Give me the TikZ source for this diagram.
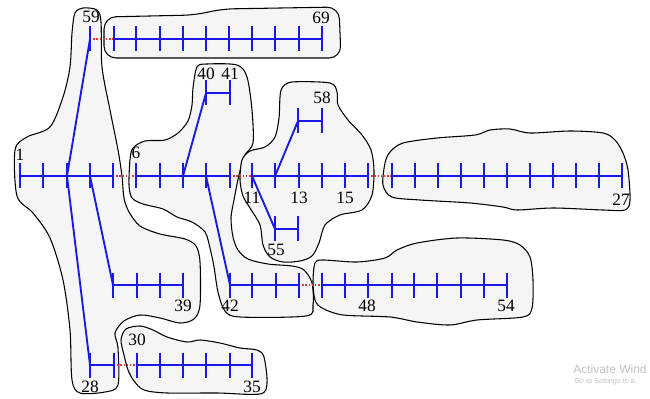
\documentclass[tikz,border=0pt]{standalone}
\usepackage{fontspec}
\setmainfont{Liberation Serif}
\newfontfamily\wmfont{Liberation Sans}
\usetikzlibrary{calc}
\definecolor{zonefill}{RGB}{245,245,245}
\definecolor{busblue}{RGB}{25,25,235}
\definecolor{tiered}{RGB}{235,50,50}
\definecolor{wmgray}{RGB}{195,195,195}
\begin{document}
\begin{tikzpicture}[x=0.75pt,y=-0.75pt,
  zone/.style={draw=black,line width=0.8pt,fill=zonefill},
  busline/.style={busblue,line width=1.2pt},
  busmark/.style={busblue,line width=1.5pt},
  branch/.style={busblue,line width=1.4pt},
  tieline/.style={tiered,line width=1.5pt,dash pattern=on 1.1pt off 1.3pt},
  lbl/.style={inner sep=0pt,font=\fontsize{13}{15}\selectfont},
  wm/.style={inner sep=0pt,anchor=west,text=wmgray}]
\useasboundingbox (0,0) rectangle (650,399);
\fill[white] (0,0) rectangle (650,399);

% ---------- zones ----------
\draw[zone] plot[smooth cycle] coordinates {(83,8) (97,10) (101,22) (102,67) (110,110) (118,150) (122,176) (124,198) (129,212) (140,226) (160,234) (185,239) (196,246) (200,262) (200,305) (194,319) (180,323) (160,318) (140,315) (124,321) (115,333) (118,348) (118,385) (105,392) (80,393) (72,380) (70,330) (63,280) (50,238) (33,213) (17,196) (15,150) (27,137) (50,127) (63,97) (70,67) (72,33) (75,13)};
\draw[zone,rounded corners=9pt] (104,17) -- (195,15) -- (222,9) -- (339,7) -- (341,58) -- (104,58) -- cycle;
\draw[zone] plot[smooth cycle] coordinates {(197,67) (207,64) (237,65) (247,77) (252,110) (253,143) (245,155) (239,175) (234,200) (231,218) (233,237) (238,250) (248,259) (268,264) (292,266) (304,270) (312,283) (313,305) (306,316) (240,317) (225,311) (218,292) (214,267) (210,248) (205,232) (192,222) (177,217) (163,209) (143,204) (132,198) (129,185) (130,160) (133,148) (145,141) (165,140) (178,133) (188,121) (192,105) (193,88)};
\draw[zone] plot[smooth cycle] coordinates {(282,88) (292,82) (330,83) (337,92) (338,105) (348,120) (362,135) (371,150) (374,170) (372,195) (362,210) (340,215) (325,225) (319,243) (312,256) (300,261) (283,262) (270,257) (263,245) (260,225) (250,208) (243,196) (240,180) (242,160) (250,151) (265,147) (275,137) (279,118) (280,97)};
\draw[zone] plot[smooth cycle] coordinates {(385,163) (383,185) (392,197) (420,200) (470,203) (503,207) (517,210) (553,208) (603,210) (625,210) (630,200) (628,170) (623,153) (615,140) (603,133) (570,131) (530,133) (510,129) (490,130) (475,135) (437,138) (403,143) (390,152)};
\draw[zone] plot[smooth cycle] coordinates {(315,263) (313,282) (315,300) (322,308) (343,315) (390,317) (417,322) (450,325) (477,320) (523,317) (532,308) (533,280) (530,257) (520,245) (503,240) (457,238) (417,243) (397,250) (385,258) (357,262) (323,260)};
\draw[zone] plot[smooth cycle] coordinates {(126,329) (121,340) (124,355) (128,370) (134,381) (144,390) (167,393) (217,393) (260,394) (267,383) (264,357) (257,350) (240,348) (220,343) (200,340) (187,342) (167,337) (153,330) (140,326)};

% ---------- bus coordinates ----------
\foreach \n/\x in {a1/20,a2/43,a3/67,a4/90,a5/113,c6/136,c7/160,c8/183,c9/206,c10/230,
  d11/252,d12/275,d13/299,d14/322,d15/345,d16/368,
  e1/392,e2/415,e3/438,e4/461,e5/484,e6/507,e7/530,e8/553,e9/576,e10/599,e11/622}
  \coordinate (\n) at (\x,176);
\coordinate (n59) at (90,39);
\foreach \n/\x in {b1/114,b2/136,b3/160,b4/183,b5/206,b6/229,b7/252,b8/275,b9/299,b10/322}
  \coordinate (\n) at (\x,39);
\coordinate (n40) at (206,93); \coordinate (n41) at (230,93);
\coordinate (m1) at (298,121); \coordinate (m2) at (322,121);
\coordinate (p1) at (275,229); \coordinate (p2) at (298,229);
\foreach \n/\x in {q1/230,q2/252,q3/276,q4/299,f1/322,f2/345,f3/368,f4/392,f5/414,f6/437,f7/461,f8/484,f9/507,
  r1/113,r2/137,r3/160,r4/183}
  \coordinate (\n) at (\x,285);
\foreach \n/\x in {s1/90,s2/114,g1/137,g2/160,g3/183,g4/206,g5/230,g6/252}
  \coordinate (\n) at (\x,365);

% ---------- ties (open switches) ----------
\draw[tieline] (a5) -- (c6);
\draw[tieline] (c10) -- (d11);
\draw[tieline] (d16) -- (e1);
\draw[tieline] (n59) -- (b1);
\draw[tieline] (q4) -- (f1);
\draw[tieline] (s2) -- (g1);

% ---------- bus lines ----------
\draw[busline] (a1) -- (a5);
\draw[busline] (c6) -- (c10);
\draw[busline] (d11) -- (d16);
\draw[busline] (e1) -- (e11);
\draw[busline] (b1) -- (b10);
\draw[busline] (n40) -- (n41);
\draw[busline] (m1) -- (m2);
\draw[busline] (p1) -- (p2);
\draw[busline] (q1) -- (q4);
\draw[busline] (f1) -- (f9);
\draw[busline] (r1) -- (r4);
\draw[busline] (s1) -- (s2);
\draw[busline] (g1) -- (g6);

% ---------- branches ----------
\draw[branch] (a3) -- (n59);
\draw[branch] (a3) -- (s1);
\draw[branch] (a4) -- (r1);
\draw[branch] (c8) -- (n40);
\draw[branch] (c9) -- (q1);
\draw[branch] (d12) -- (m1);
\draw[branch] (d11) -- (p1);

% ---------- bus marks ----------
\foreach \c in {a1,a2,a3,a4,a5,c6,c7,c8,c9,c10,d11,d12,d13,d14,d15,d16,
  e1,e2,e3,e4,e5,e6,e7,e8,e9,e10,e11,n59,b1,b2,b3,b4,b5,b6,b7,b8,b9,b10,
  n40,n41,m1,m2,p1,p2,q1,q2,q3,q4,f1,f2,f3,f4,f5,f6,f7,f8,f9,
  r1,r2,r3,r4,s1,s2,g1,g2,g3,g4,g5,g6}
  \draw[busmark] ($(\c)+(0,-12.5)$) -- ($(\c)+(0,12.5)$);

% ---------- labels ----------
\node[lbl] (l1) at (20,155) {1};
\node[lbl] (l59) at (91,17) {59};
\node[lbl] (l69) at (321,18) {69};
\node[lbl] (l6) at (136,153) {6};
\node[lbl] (l40) at (206,74) {40};
\node[lbl] (l41) at (230,74) {41};
\node[lbl] (l58) at (322,98) {58};
\node[lbl] (l11) at (252,198) {11};
\node[lbl] (l13) at (299,198) {13};
\node[lbl] (l15) at (345,198) {15};
\node[lbl] (l27) at (621,200) {27};
\node[lbl] (l55) at (276,250) {55};
\node[lbl] (l39) at (183,306) {39};
\node[lbl] (l42) at (230,306) {42};
\node[lbl] (l48) at (367,306) {48};
\node[lbl] (l54) at (506,306) {54};
\node[lbl] (l30) at (137,340) {30};
\node[lbl] (l28) at (90,387) {28};
\node[lbl] (l35) at (252,387) {35};

% ---------- watermark ----------
\node[wm,font=\wmfont\fontsize{9}{10}\selectfont] (wm1) at (573,369) {Activate Wind};
\node[wm,font=\wmfont\fontsize{5.5}{6}\selectfont] (wm2) at (574,382) {Go to Settings to a};
\end{tikzpicture}
\end{document}
